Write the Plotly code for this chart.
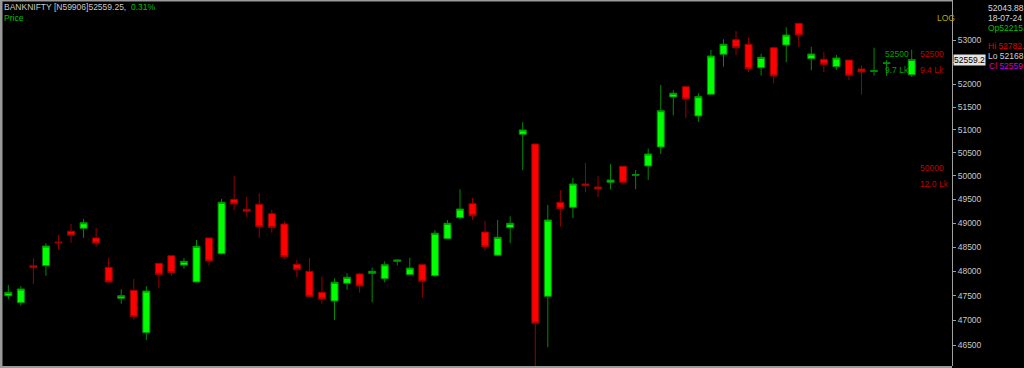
import math
import plotly.graph_objects as go

# ---------------- data ----------------
session = list(range(0, 71)) + [72]

open_ = [47498, 47357, 48113, 48113, 48605, 48829, 48891, 48689, 48080, 47445,
         47608, 46752, 48163, 48320, 48127, 47779, 48689, 48361, 49502, 49291,
         49397, 49198, 48981, 48142, 47998, 47567, 47391, 47752, 47943, 47957,
         47846, 48204, 47928, 48134, 47908, 48674, 49114, 49409, 48812, 48330,
         48904, 50902, 50690, 47486, 49439, 49333, 49829, 49765, 49865, 50209,
         50015, 50215, 50625, 51723, 51951, 51303, 51782, 52677, 53007, 52903,
         52375, 52826, 52887, 53381, 52577, 52564, 52398, 52548, 52347, 52293,
         52472, 52215]
high = [47717, 47697, 48272, 48578, 48751, 48981, 49087, 48898, 48279, 47629,
        47840, 47690, 48163, 48320, 48272, 48647, 48689, 49509, 50006, 49557,
        49630, 49276, 49038, 48231, 48272, 47887, 47854, 47957, 47969, 48072,
        48204, 48240, 48279, 48134, 48850, 49065, 49715, 49530, 49044, 49065,
        49143, 51165, 50690, 49382, 49700, 49957, 50280, 49994, 50252, 50209,
        50129, 50588, 51989, 51878, 51951, 51805, 52774, 53016, 53205, 53062,
        52690, 52849, 53290, 53390, 52842, 52736, 52661, 52548, 52429, 52826,
        52548, 52782]
low = [47431, 47296, 47738, 47908, 48452, 48590, 48689, 48506, 47758, 47336,
       47012, 46606, 47649, 47908, 48051, 47779, 48113, 48361, 49270, 49135,
       48689, 48799, 48245, 47875, 47466, 47336, 47006, 47621, 47559, 47365,
       47772, 48121, 47928, 47458, 47887, 48674, 49080, 49065, 48423, 48330,
       48578, 50123, 46088, 46460, 48925, 49108, 49651, 49551, 49715, 49814,
       49715, 49914, 50473, 51318, 51259, 51172, 51782, 52397, 52661, 52279,
       52197, 52027, 52502, 52849, 52317, 52273, 52324, 52100, 51773, 52197,
       52190, 52168]
close = [47567, 47635, 48072, 48521, 48590, 48745, 49008, 48578, 47779, 47498,
         47074, 47594, 47936, 47969, 48204, 48514, 48210, 49439, 49403, 49249,
         48925, 48904, 48299, 48030, 47486, 47431, 47772, 47875, 47697, 47998,
         48134, 48231, 48065, 47793, 48787, 48996, 49297, 49156, 48506, 48703,
         48996, 50996, 46940, 49065, 49304, 49829, 49792, 49722, 49914, 49865,
         50028, 50473, 51419, 51805, 51678, 51730, 52638, 52903, 52826, 52353,
         52609, 52190, 53114, 53114, 52684, 52452, 52593, 52206, 52279, 52306,
         52482, 52559.25]

tick_values = [46500, 47000, 47500, 48000, 48500, 49000, 49500, 50000,
               50500, 51000, 51500, 52000, 52500, 53000]
tick_labels = [str(v) for v in tick_values]

symbol = "BANKNIFTY [N59906]"
last_price = 52559.25
change_pct = "0.31%"
info_date = "18-07-24"
info_cursor = "52043.88"
oi_levels = [52500, 52500, 50000]
oi_labels = ["9.7 Lk", "9.4 Lk", "12.0 Lk"]

# ---------------- layout helpers (pixel -> paper) ----------------
W, H = 1024, 368
PL, PR, PT, PB = 0, 952, 0, 366
def xp(px):
    return (px - PL) / (PR - PL)
def yp(py):
    return 1 - (py - PT) / (PB - PT)

FONT = "Liberation Sans, Arial, sans-serif"

fig = go.Figure()
fig.add_trace(go.Candlestick(
    x=session, open=open_, high=high, low=low, close=close,
    increasing=dict(fillcolor="#00ff00", line=dict(color="#008c00", width=1)),
    decreasing=dict(fillcolor="#ff0000", line=dict(color="#980000", width=1)),
    whiskerwidth=0, showlegend=False, hoverinfo="skip"))

annotations = []
def txt(text, px, py, color, size=8.5, xanchor="left", yanchor="middle", **kw):
    annotations.append(dict(text=text, x=xp(px), y=yp(py), xref="paper", yref="paper",
                            xanchor=xanchor, yanchor=yanchor, showarrow=False,
                            font=dict(family=FONT, size=size, color=color), **kw))

# header
txt(f"{symbol}{last_price:.2f}, <span style='color:#00c000'> {change_pct}</span>", 2, 7.5, "#c8c8c8")
txt("Price", 2, 17.5, "#00c000")
txt("LOG", 935, 18, "#b8a800")

# info box
txt(info_cursor, 986, 8, "#d8d8d8")
txt(info_date, 986, 18, "#d8d8d8")
txt(f"Op{open_[-1]:.0f}.", 986, 28, "#00c000")
txt(f"Hi {high[-1]:.0f}.", 986, 46.5, "#e00000")
txt(f"Lo {low[-1]:.0f}.", 986, 56, "#d0d0d0")
txt(f"Cl {math.floor(close[-1])}.", 987, 65.5, "#d000d0")

# price tag
txt(f"{last_price:.1f}", 953, 60, "#000000", bgcolor="#e4e4e4", borderpad=0)

# OI markers
def level_y(v):
    return math.log10(v)
oi_px = [883, 918, 918]
oi_colors = ["#00a000", "#c00000", "#c00000"]
oi_ends = [908, 952, 952]
shapes = []
for v, lab, px, col, pe in zip(oi_levels, oi_labels, oi_px, oi_colors, oi_ends):
    annotations.append(dict(text=str(v), x=xp(px), y=level_y(v), xref="paper", yref="y",
                            xanchor="left", yanchor="bottom", yshift=1, showarrow=False,
                            font=dict(family=FONT, size=8.5, color=col)))
    annotations.append(dict(text=lab, x=xp(px), y=level_y(v), xref="paper", yref="y",
                            xanchor="left", yanchor="top", yshift=-1, showarrow=False,
                            font=dict(family=FONT, size=8.5, color=col)))
    shapes.append(dict(type="line", xref="paper", yref="y", x0=xp(px), x1=xp(pe),
                       y0=level_y(v), y1=level_y(v),
                       line=dict(color=col, width=1, dash="dot")))

# frame
frame = "#9a9a9a"
shapes += [
    dict(type="rect", xref="paper", yref="paper", x0=0, x1=xp(2.5), y0=yp(368), y1=1,
         fillcolor=frame, line=dict(width=0)),
    dict(type="rect", xref="paper", yref="paper", x0=0, x1=xp(952), y0=yp(1.5), y1=1,
         fillcolor=frame, line=dict(width=0)),
    dict(type="rect", xref="paper", yref="paper", x0=0, x1=xp(952), y0=yp(368), y1=yp(366),
         fillcolor=frame, line=dict(width=0)),
]

x_lo = -0.6615
x_hi = 75.213
fig.update_layout(
    width=W, height=H,
    margin=dict(l=PL, r=W - PR, t=PT, b=H - PB, pad=0),
    paper_bgcolor="#000000", plot_bgcolor="#000000",
    boxgap=0.2,
    xaxis=dict(range=[x_lo, x_hi], visible=False, rangeslider=dict(visible=False),
               showgrid=False, zeroline=False, fixedrange=True),
    yaxis=dict(type="log", side="right", range=[4.663595, 4.731726],
               tickvals=tick_values, ticktext=tick_labels,
               ticks="outside", ticklen=3, tickwidth=1, tickcolor="#a0a0a0",
               tickfont=dict(family=FONT, size=8.5, color="#c8c8c8"),
               showgrid=False, zeroline=False, showline=True,
               linecolor="#a0a0a0", linewidth=1, fixedrange=True),
    annotations=annotations, shapes=shapes,
    showlegend=False,
)

fig.write_html("out.html")
